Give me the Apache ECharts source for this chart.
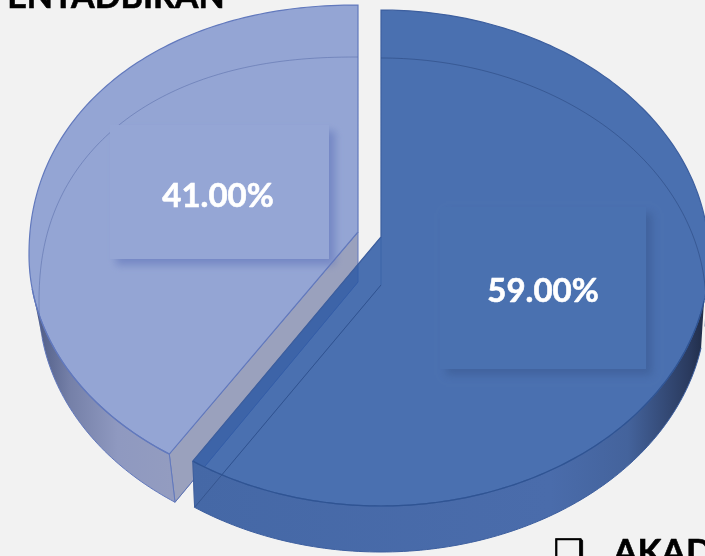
<!DOCTYPE html>
<html>
<head>
<meta charset="utf-8">
<style>
  html, body { margin: 0; padding: 0; background: #f2f2f2; overflow: hidden; }
  #pieChart { width: 705px; height: 556px; }
</style>
<script src="https://cdn.jsdelivr.net/npm/echarts@6/dist/echarts.min.js"></script>
</head>
<body>
<div id="pieChart"></div>
<script>
// light slice first so the dark one lands on top of it
const categories = ["PENTADBIRAN", "AKADEMIK"];
const shares = [41, 59];

// how each slice is tilted on the page
const sliceShapes = [
  {
    top: { cx: 358, cy: 255, rx: 329, ry: 250, ryLower: 243, apexY: 232, upperLeftPower: 0.94 },
    bottom: { cx: 358, cy: 304, rx: 319, ry: 247, ryLower: 242, apexY: 282, upperLeftPower: 0.88 },
    fill: "#94a5d4",
    edge: "#6279bd",
    inner: "rgba(90,110,170,0.55)",
    face: "#9aa1bd",
    rimStops: [[0, "#4f5c86"], [0.25, "#7580a8"], [0.6, "#8f99c0"], [1, "#939cc0"]],
    rimFrom: 36,
    rimTo: 172,
    box: { x: 110, y: 125, w: 219, h: 134 },
    boxFill: "#95a6d5",
    boxShadow: "rgba(95,115,185,0.6)",
    labelY: 196,
    labelX: 218
  },
  {
    top: { cx: 381, cy: 258, rx: 328, ry: 248, apexY: 237 },
    bottom: { cx: 381, cy: 305, rx: 325, ry: 247, apexY: 285 },
    fill: "rgba(45,89,165,0.85)",
    edge: "#3d5f9f",
    inner: "rgba(38,66,120,0.5)",
    face: null,
    rimStops: [[0, "#4568a6"], [0.7, "#4a6cab"], [0.85, "#44639c"], [0.97, "#2a3a5e"], [1, "#202c47"]],
    rimFrom: 190,
    rimTo: 705,
    box: { x: 440, y: 207, w: 206, h: 162 },
    boxFill: "#4a71b0",
    boxShadow: "rgba(50,78,130,0.4)",
    labelY: 291,
    labelX: 543
  }
];
const sweepStretch = 215 / 212.4; // drawn split sits a little past the true 59%
const topTextLeft = "ENTADBIRAN";
const bottomBullet = "❑";
const bottomText = "AKAD";

function onEllipse(e, deg) {
  const a = deg * Math.PI / 180;
  const s = Math.sin(a);
  const c = Math.cos(a);
  const p = s < 0 && c > 0 && e.upperLeftPower ? e.upperLeftPower : 1;
  const ry = c < 0 && e.ryLower ? e.ryLower : e.ry;
  return [
    e.cx + e.rx * Math.sign(s) * Math.pow(Math.abs(s), p),
    e.cy - ry * Math.sign(c) * Math.pow(Math.abs(c), p)
  ];
}

function arcPoints(e, from, to) {
  const pts = [];
  const steps = Math.max(2, Math.ceil(Math.abs(to - from)));
  for (let i = 0; i <= steps; i++) {
    pts.push(onEllipse(e, from + (to - from) * i / steps));
  }
  return pts;
}

function wedge(e, from, to) {
  return arcPoints(e, from, to).concat([[e.cx, e.apexY]]);
}

function renderSlice(params, api) {
  const i = params.dataIndex;
  const s = sliceShapes[i];
  const isDark = i === 1;
  const total = shares.reduce((a, b) => a + b, 0);
  const split = shares[1] / total * 360 * sweepStretch;
  const from = isDark ? 0 : split;
  const to = isDark ? split : 360;
  // rim only shows on the part of the arc that faces the viewer
  const rimFrom = isDark ? 100 : from;
  const rimTo = isDark ? to : 262;
  const topEnd = onEllipse(s.top, split);
  const bottomEnd = onEllipse(s.bottom, split);
  const rim = arcPoints(s.top, rimFrom, rimTo).concat(arcPoints(s.bottom, rimTo, rimFrom));
  const rimFill = new echarts.graphic.LinearGradient(
    s.rimFrom, 0, s.rimTo, 0, s.rimStops.map(r => ({ offset: r[0], color: r[1] })), true
  );
  const children = [
    // cut face along the split
    {
      type: "polygon",
      shape: { points: [[s.top.cx, s.top.apexY], [s.bottom.cx, s.bottom.apexY], bottomEnd, topEnd] },
      style: { fill: s.face, stroke: isDark ? s.inner : s.edge, lineWidth: 1 }
    },
    {
      type: "polygon",
      shape: { points: rim },
      style: { fill: rimFill }
    },
    {
      type: "polygon",
      shape: { points: wedge(s.top, from, to) },
      style: { fill: s.fill, stroke: s.edge, lineWidth: 1.2 }
    },
    // back outline of the lower face, seen through the top
    {
      type: "polyline",
      shape: { points: arcPoints(s.bottom, isDark ? 0 : 262, isDark ? 95 : 360) },
      style: { fill: null, stroke: s.inner, lineWidth: 1 }
    },
    {
      type: "polyline",
      shape: { points: [[s.bottom.cx, s.bottom.apexY], bottomEnd] },
      style: { fill: null, stroke: s.inner, lineWidth: 1 }
    },
    {
      type: "polyline",
      shape: { points: arcPoints(s.bottom, rimFrom, rimTo) },
      style: { fill: null, stroke: s.edge, lineWidth: 1 }
    },
    {
      type: "polyline",
      shape: { points: arcPoints(s.top, rimFrom, rimTo) },
      style: { fill: null, stroke: isDark ? "#2f5493" : s.edge, lineWidth: 1.2 }
    },
    {
      type: "polyline",
      shape: { points: [topEnd, bottomEnd] },
      style: { fill: null, stroke: s.edge, lineWidth: 1 }
    },
    // data label box
    {
      type: "rect",
      shape: { x: s.box.x, y: s.box.y, width: s.box.w, height: s.box.h },
      style: {
        fill: s.boxFill,
        shadowBlur: 8,
        shadowOffsetX: 6,
        shadowOffsetY: 6,
        shadowColor: s.boxShadow
      }
    },
    {
      type: "text",
      style: {
        x: s.labelX,
        y: s.labelY,
        text: api.value(1).toFixed(2) + "%",
        fill: "#ffffff",
        stroke: "#ffffff",
        lineWidth: 0.6,
        font: "bold 33px Lato, sans-serif",
        align: "center",
        verticalAlign: "middle"
      }
    }
  ];
  return { type: "group", children: children };
}

const chart = echarts.init(document.getElementById("pieChart"));
chart.setOption({
  backgroundColor: "#f2f2f2",
  animation: false,
  series: [
    {
      type: "custom",
      coordinateSystem: "none",
      data: categories.map((name, i) => ({ name: name, value: [i, shares[i]] })),
      renderItem: renderSlice,
      z: 2
    }
  ],
  graphic: [
    {
      type: "text",
      left: 7,
      top: -20,
      style: { text: topTextLeft, fill: "#000000", stroke: "#000000", lineWidth: 0.6, font: "bold 34px Lato, sans-serif" }
    },
    {
      type: "text",
      left: 553,
      top: 537,
      style: { text: bottomBullet, fill: "#000000", stroke: "#000000", lineWidth: 0.8, font: "35px 'DejaVu Sans', sans-serif" }
    },
    {
      type: "text",
      left: 613,
      top: 535,
      style: { text: bottomText, fill: "#000000", stroke: "#000000", lineWidth: 0.6, font: "bold 35px Lato, sans-serif" }
    }
  ]
});
</script>
</body>
</html>
